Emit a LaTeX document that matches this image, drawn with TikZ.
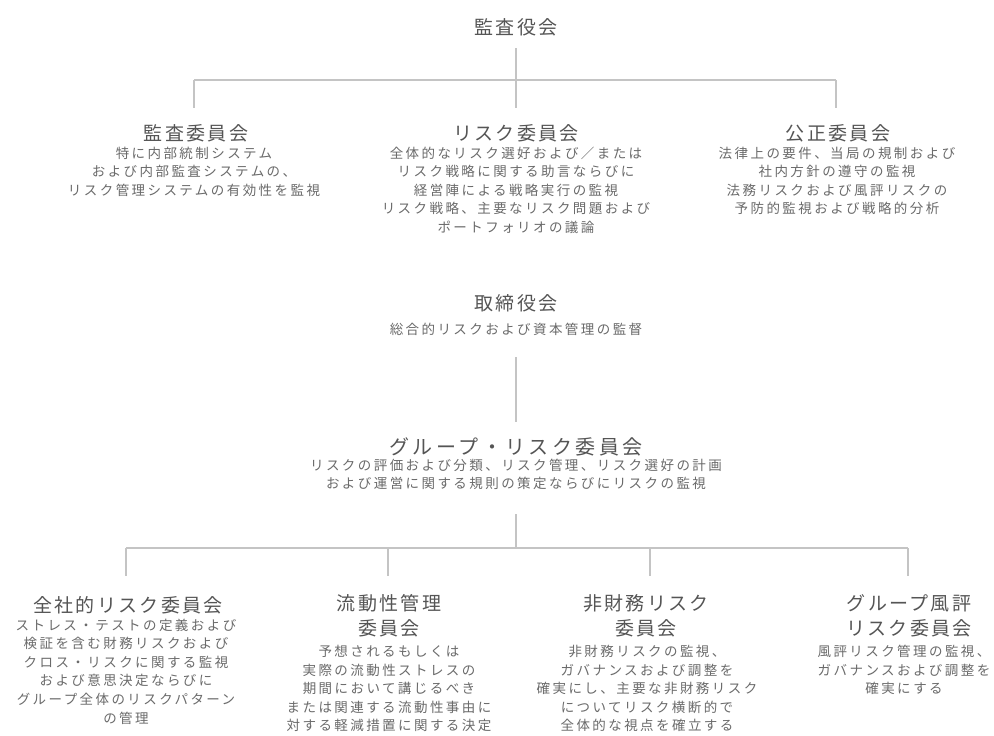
\documentclass[tikz,border=0pt]{standalone}
\usepackage{fontspec}
\setmainfont{Noto Sans CJK JP}
\newfontfamily\jpdesc[LetterSpace=18]{Noto Sans CJK JP}
\newfontfamily\jptitle[LetterSpace=12]{Noto Sans CJK JP}
\newfontfamily\jpbig[LetterSpace=17]{Noto Sans CJK JP}
\definecolor{titlegray}{HTML}{555555}
\definecolor{descgray}{HTML}{6A6A6A}
\definecolor{linegray}{HTML}{C4C4C4}
\begin{document}
\begin{tikzpicture}[x=1pt,y=-1pt,
  ttl/.style={inner sep=0pt, text=titlegray, anchor=base, font=\jptitle\fontsize{19}{25}\selectfont},
  ttlm/.style={inner sep=0pt, text=titlegray, anchor=north, align=center,
     font=\jptitle\fontsize{19}{25}\selectfont, execute at begin node=\rule{0pt}{18pt}},
  bigttl/.style={inner sep=0pt, text=titlegray, anchor=base, font=\jpbig\fontsize{20}{26}\selectfont},
  desc/.style={inner sep=0pt, text=descgray, anchor=north, align=center,
     font=\jpdesc\fontsize{13.5}{18.6}\selectfont, execute at begin node=\rule{0pt}{14pt}},
  link/.style={draw=linegray, line width=1.6pt}]
\path[use as bounding box, fill=white] (0,0) rectangle (994,736);

% top level
\node[ttl] (kansayaku) at (516,34.6) {監査役会};

\node[ttl] (kansa) at (196,140) {監査委員会};
\node[desc] (kansad) at (194,146.5) {特に内部統制システム\\および内部監査システムの、\\リスク管理システムの有効性を監視};

\node[ttl] (risk) at (516,140) {リスク委員会};
\node[desc] (riskd) at (516,146.5) {全体的なリスク選好および／または\\リスク戦略に関する助言ならびに\\経営陣による戦略実行の監視\\リスク戦略、主要なリスク問題および\\ポートフォリオの議論};

\node[ttl] (kosei) at (838,140) {公正委員会};
\node[desc] (kosaid) at (837,146.5) {法律上の要件、当局の規制および\\社内方針の遵守の監視\\法務リスクおよび風評リスクの\\予防的監視および戦略的分析};

% board
\node[ttl] (torishimari) at (516,310) {取締役会};
\node[desc] (torishimarid) at (516,320.5) {総合的リスクおよび資本管理の監督};

% group risk committee
\node[bigttl] (group) at (516,454) {グループ・リスク委員会};
\node[desc] (groupd) at (516,458.5) {リスクの評価および分類、リスク管理、リスク選好の計画\\および運営に関する規則の策定ならびにリスクの監視};

% bottom committees
\node[ttlm] (zensha) at (128,594) {全社的リスク委員会};
\node[desc] (zenshad) at (126,618.5) {ストレス・テストの定義および\\検証を含む財務リスクおよび\\クロス・リスクに関する監視\\および意思決定ならびに\\グループ全体のリスクパターン\\の管理};

\node[ttlm] (ryudo) at (389,594) {流動性管理\\委員会};
\node[desc] (ryudod) at (389,645) {予想されるもしくは\\実際の流動性ストレスの\\期間において講じるべき\\または関連する流動性事由に\\対する軽減措置に関する決定};

\node[ttlm] (hizaimu) at (646,594) {非財務リスク\\委員会};
\node[desc] (hizaimud) at (647,645) {非財務リスクの監視、\\ガバナンスおよび調整を\\確実にし、主要な非財務リスク\\についてリスク横断的で\\全体的な視点を確立する};

\node[ttlm] (fuhyo) at (909,594) {グループ風評\\リスク委員会};
\node[desc] (fuhyod) at (904,645) {風評リスク管理の監視、\\ガバナンスおよび調整を\\確実にする};

% connector coordinates
\coordinate (a0) at (516,48);
\coordinate (a1) at (516,80);
\coordinate (aL) at (194,80);
\coordinate (aR) at (836,80);
\coordinate (aLd) at (194,108);
\coordinate (aMd) at (516,108);
\coordinate (aRd) at (836,108);

\coordinate (b0) at (516,357);
\coordinate (b1) at (516,422);

\coordinate (c0) at (516,514);
\coordinate (c1) at (516,548);
\coordinate (cL) at (126,548);
\coordinate (cR) at (908,548);
\coordinate (c1d) at (126,576);
\coordinate (c2u) at (388,548);
\coordinate (c2d) at (388,576);
\coordinate (c3u) at (650,548);
\coordinate (c3d) at (650,576);
\coordinate (c4d) at (908,576);

\draw[link] (a0) -- (a1);
\draw[link] (aL) -- (aR);
\draw[link] (aL) -- (aLd);
\draw[link] (a1) -- (aMd);
\draw[link] (aR) -- (aRd);

\draw[link] (b0) -- (b1);

\draw[link] (c0) -- (c1);
\draw[link] (cL) -- (cR);
\draw[link] (cL) -- (c1d);
\draw[link] (c2u) -- (c2d);
\draw[link] (c3u) -- (c3d);
\draw[link] (cR) -- (c4d);
\end{tikzpicture}
\end{document}
